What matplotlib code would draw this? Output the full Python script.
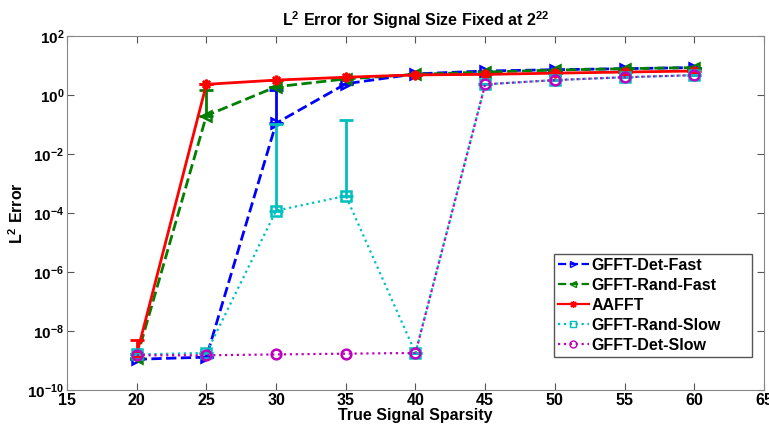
import numpy as np
import matplotlib.pyplot as plt
from matplotlib.lines import Line2D

plt.rcParams['font.family'] = 'Liberation Sans'
plt.rcParams['font.weight'] = 'bold'
plt.rcParams['mathtext.fontset'] = 'custom'
plt.rcParams['mathtext.rm'] = 'Liberation Sans:bold'
plt.rcParams['mathtext.bf'] = 'Liberation Sans:bold'
plt.rcParams['mathtext.default'] = 'rm'

sparsity = [20, 25, 30, 35, 40, 45, 50, 55, 60]

det_fast = [1.1e-9, 1.3e-9, 0.11, 2.4, 5.2, 6.5, 7.2, 7.8, 8.5]
det_fast_up = [0, 0, 1.4, 0, 0, 0, 0, 0, 0]

rand_fast = [1.2e-9, 0.2, 1.9, 3.5, 5.0, 6.0, 7.0, 7.8, 8.5]
rand_fast_up = [0, 1.3, 0, 0, 0, 0, 0, 0, 0]

aafft = [1.6e-9, 2.3, 3.2, 4.0, 4.8, 5.0, 5.5, 6.0, 6.5]
aafft_up = [3.5e-9, 0, 0, 0, 0, 0, 0, 0, 0]

rand_slow = [1.6e-9, 1.8e-9, 1.2e-4, 3.8e-4, 1.8e-9, 2.3, 3.2, 4.0, 4.7]
rand_slow_up = [0, 0, 0.1, 0.14, 0, 0, 0, 0, 0]

det_slow = [1.5e-9, 1.5e-9, 1.6e-9, 1.7e-9, 1.8e-9, 2.3, 3.2, 4.0, 4.7]

labels = ['GFFT-Det-Fast', 'GFFT-Rand-Fast', 'AAFFT', 'GFFT-Rand-Slow', 'GFFT-Det-Slow']
colors = ['#0000ff', '#007f00', '#ff0000', '#00bfbf', '#bf00bf']
styles = ['--', '--', '-', ':', ':']
markers = ['>', '<', (8, 2, 0), 's', 'o']

fig = plt.figure(figsize=(7.69, 4.25), dpi=100)
ax = fig.add_axes([0.0871, 0.0824, 0.9064, 0.8329])

series = [(det_fast, det_fast_up), (rand_fast, rand_fast_up), (aafft, aafft_up),
          (rand_slow, rand_slow_up), (det_slow, None)]

for (vals, ups), lab, c, ls, mk in zip(series, labels, colors, styles, markers):
    lw = 2 if ls != ':' else 1.6
    if ups is not None:
        ax.errorbar(sparsity, vals, yerr=[np.zeros(len(vals)), np.array(ups)], fmt='none',
                    ecolor=c, elinewidth=2, capsize=5, capthick=2)
    ax.plot(sparsity, vals, color=c, linestyle=ls, linewidth=lw, marker=mk, markersize=7,
            markerfacecolor='none', markeredgewidth=1.8)

ax.set_yscale('log')
ax.set_xlim(15, 65)
ax.set_ylim(1e-10, 1e2)
ax.set_xticks(range(15, 66, 5))
yt = [1e-10, 1e-8, 1e-6, 1e-4, 1e-2, 1e0, 1e2]
ax.set_yticks(yt)
ax.set_yticklabels([r'$10^{%d}$' % int(np.log10(v)) for v in yt])
ax.yaxis.set_minor_locator(plt.NullLocator())
ax.tick_params(direction='in', top=True, right=True, labelsize=11.5, length=5,
               color='#555555', pad=2)
ax.tick_params(axis='y', labelsize=11)
for s in ax.spines.values():
    s.set_color('#888888')

ax.set_xlabel('True Signal Sparsity', fontsize=11.5, fontweight='bold', labelpad=0)
ax.set_ylabel(r'L$^2$ Error', fontsize=11.5, fontweight='bold', labelpad=1)
ax.set_title(r'L$^2$ Error for Signal Size Fixed at 2$^{22}$', fontsize=11.5,
             fontweight='bold', pad=7)

handles = [Line2D([], [], color=c, linestyle=ls, linewidth=1.6, marker=mk, markersize=5,
                  markerfacecolor='none', markeredgewidth=1)
           for c, ls, mk in zip(colors, styles, markers)]
leg = ax.legend(handles, labels, loc='lower left', bbox_to_anchor=(0.699, 0.093, 0.284, 0.28),
                mode='expand', fontsize=11.5, fancybox=False, edgecolor='#555555',
                handlelength=1.9, handletextpad=0.2, borderpad=0.25, labelspacing=0.32,
                borderaxespad=0, framealpha=1)
leg.get_frame().set_linewidth(1)

fig.savefig('out.png', dpi=100)
